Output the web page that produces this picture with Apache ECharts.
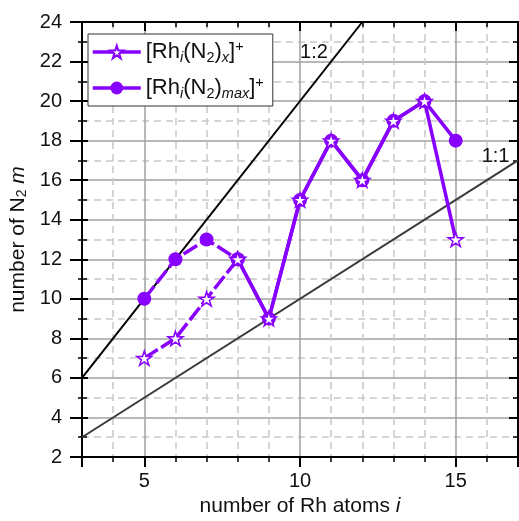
<!DOCTYPE html>
<html>
<head>
<meta charset="utf-8">
<script src="https://cdn.jsdelivr.net/npm/echarts@6.0.0/dist/echarts.min.js"></script>
<style>
  html, body { margin: 0; padding: 0; background: #fff; }
  #chart { width: 519px; height: 521px; }
</style>
</head>
<body>
<div id="chart"></div>
<script>
// cluster size i
var atomCounts = [5, 6, 7, 8, 9, 10, 11, 12, 13, 14, 15];
// [Rh_i(N2)_x]+ (stars)
var n2Observed = [7, 8, 10, 12, 9, 15, 18, 16, 19, 20, 13];
// [Rh_i(N2)_max]+ (circles)
var n2Max = [10, 12, 13, 12, 9, 15, 18, 16, 19, 20, 18];
// reference lines 1:2 and 1:1 (end points)
var ratio12 = [[3, 6], [12, 24]];
var ratio11 = [[3, 3], [17, 17]];
// the line is dashed up to this index (i = 8), solid after
var dashEnd = 3;

var purple = '#8800ff';
var font = "'Liberation Sans', Arial, sans-serif";
var starPath = 'path://M50 0 L61.17 34.63 L97.55 34.55 L68.07 55.87 L79.39 90.45 L50 69 L20.61 90.45 L31.93 55.87 L2.45 34.55 L38.83 34.63 Z';

function pairs(xs, ys) {
  return xs.map(function (x, k) { return [x, ys[k]]; });
}

function richFor(size, sub) {
  return {
    si: { fontSize: sub, fontStyle: 'italic', fontFamily: font, color: '#111', verticalAlign: 'bottom', lineHeight: sub },
    sb: { fontSize: sub, fontFamily: font, color: '#111', verticalAlign: 'bottom', lineHeight: sub },
    sp: { fontSize: sub, fontFamily: font, color: '#111', verticalAlign: 'top', lineHeight: sub },
    it: { fontSize: size, fontStyle: 'italic', fontFamily: font, color: '#111' }
  };
}

var legendText = {
  x: '[Rh{si|i}(N{sb|2}){si|x}]{sp|+}',
  max: '[Rh{si|i}(N{sb|2}){si|max}]{sp|+}'
};

var xBase = {
  type: 'value', min: 3, max: 17,
  splitNumber: 3, minInterval: 5, maxInterval: 5,
  axisLine: { show: true, onZero: false, lineStyle: { color: '#000', width: 2 } }
};
var yBase = {
  type: 'value', min: 2, max: 24, interval: 2,
  axisLine: { show: true, onZero: false, lineStyle: { color: '#000', width: 2 } }
};

var maxPts = pairs(atomCounts, n2Max);
var obsPts = pairs(atomCounts, n2Observed);

var circleStyle = {
  type: 'line', z: 3, symbol: 'circle', symbolSize: 14,
  itemStyle: { color: purple }
};
var starStyle = {
  type: 'line', z: 4, symbol: starPath, symbolSize: 15, symbolKeepAspect: true,
  itemStyle: { color: '#fff', borderColor: purple, borderWidth: 1.5 }
};

var chart = echarts.init(document.getElementById('chart'));
var option = {
  animation: false,
  backgroundColor: '#fff',
  grid: { left: 82, right: 1, top: 22, bottom: 64, containLabel: false, outerBoundsMode: 'none' },
  legend: {
    data: ['x', 'max'],
    orient: 'vertical',
    left: 88, top: 34,
    itemWidth: 48, itemHeight: 16, itemGap: 10,
    padding: [5, 9, 5, 3],
    borderColor: '#333', borderWidth: 1,
    backgroundColor: '#fff',
    lineStyle: { type: 'solid', width: 3.5 },
    formatter: function (name) { return legendText[name]; },
    textStyle: { fontSize: 22, fontFamily: font, color: '#111', lineHeight: 26, rich: richFor(22, 14.5) }
  },
  xAxis: [
    Object.assign({}, xBase, {
      position: 'bottom',
      name: 'number of Rh atoms {it|i}',
      nameLocation: 'middle', nameGap: 35,
      nameTextStyle: { fontSize: 21, fontFamily: font, color: '#111', rich: richFor(21, 14) },
      axisTick: { show: true, inside: false, length: 10, lineStyle: { color: '#000', width: 2 } },
      minorTick: { show: true, splitNumber: 5, length: 5, lineStyle: { color: '#000', width: 1.5 } },
      axisLabel: {
        show: true, margin: 14, fontSize: 20, fontFamily: font, color: '#111',
        showMinLabel: false, showMaxLabel: false,
        formatter: function (v) { return v % 5 === 0 ? String(v) : ''; }
      },
      splitLine: { show: true, lineStyle: { color: '#a0a0a0', width: 1.5 } },
      minorSplitLine: { show: true, lineStyle: { color: '#c8c8c8', width: 1.5, type: [7, 5] } }
    }),
    Object.assign({}, xBase, {
      position: 'top',
      axisTick: { show: true, inside: true, length: 9, lineStyle: { color: '#000', width: 2 } },
      minorTick: { show: true, splitNumber: 5, length: 5, lineStyle: { color: '#000', width: 1.5 } },
      axisLabel: { show: false },
      splitLine: { show: false }
    })
  ],
  yAxis: [
    Object.assign({}, yBase, {
      position: 'left',
      name: 'number of N{sb|2} {it|m}',
      nameLocation: 'middle', nameGap: 44,
      nameTextStyle: { fontSize: 21, fontFamily: font, color: '#111', rich: richFor(21, 14) },
      axisTick: { show: true, inside: false, length: 12, lineStyle: { color: '#000', width: 2 } },
      minorTick: { show: true, splitNumber: 2, length: 4, lineStyle: { color: '#000', width: 1.5 } },
      axisLabel: { show: true, margin: 20, fontSize: 20, fontFamily: font, color: '#111' },
      splitLine: { show: true, lineStyle: { color: '#a0a0a0', width: 1.5 } },
      minorSplitLine: { show: true, lineStyle: { color: '#c8c8c8', width: 1.5, type: [7, 5] } }
    }),
    Object.assign({}, yBase, {
      position: 'left',
      axisTick: { show: true, inside: true, length: 6, lineStyle: { color: '#000', width: 2 } },
      minorTick: { show: true, splitNumber: 2, length: 5, lineStyle: { color: '#000', width: 1.5 } },
      axisLabel: { show: false },
      splitLine: { show: false }
    }),
    Object.assign({}, yBase, {
      position: 'right',
      axisTick: { show: true, inside: true, length: 9, lineStyle: { color: '#000', width: 2 } },
      minorTick: { show: true, splitNumber: 2, length: 5, lineStyle: { color: '#000', width: 1.5 } },
      axisLabel: { show: false },
      splitLine: { show: false }
    })
  ],
  series: [
    {
      name: '1:2', type: 'line', data: ratio12, symbol: 'none', silent: true, z: 1,
      lineStyle: { color: '#000', width: 2 },
      markPoint: {
        symbol: 'circle', symbolSize: 0, silent: true,
        label: { show: true, position: 'inside', formatter: '1:2', fontSize: 20, fontFamily: font, color: '#111' },
        data: [{ coord: [10.45, 22.45] }]
      }
    },
    {
      name: '1:1', type: 'line', data: ratio11, symbol: 'none', silent: true, z: 1,
      lineStyle: { color: '#3a3a3a', width: 2 },
      markPoint: {
        symbol: 'circle', symbolSize: 0, silent: true,
        label: { show: true, position: 'inside', formatter: '1:1', fontSize: 20, fontFamily: font, color: '#111' },
        data: [{ coord: [16.28, 17.2] }]
      }
    },
    Object.assign({}, circleStyle, {
      name: 'max-start', data: maxPts.slice(0, dashEnd + 1),
      lineStyle: { color: purple, width: 3.5, type: [16, 4] }
    }),
    Object.assign({}, circleStyle, {
      name: 'max', data: maxPts.slice(dashEnd),
      lineStyle: { color: purple, width: 3.5, type: 'solid' }
    }),
    Object.assign({}, starStyle, {
      name: 'x-start', data: obsPts.slice(0, dashEnd + 1),
      lineStyle: { color: purple, width: 3.5, type: [16, 4] }
    }),
    Object.assign({}, starStyle, {
      name: 'x', data: obsPts.slice(dashEnd),
      lineStyle: { color: purple, width: 3.5, type: 'solid' }
    })
  ]
};
chart.setOption(option);
</script>
</body>
</html>
